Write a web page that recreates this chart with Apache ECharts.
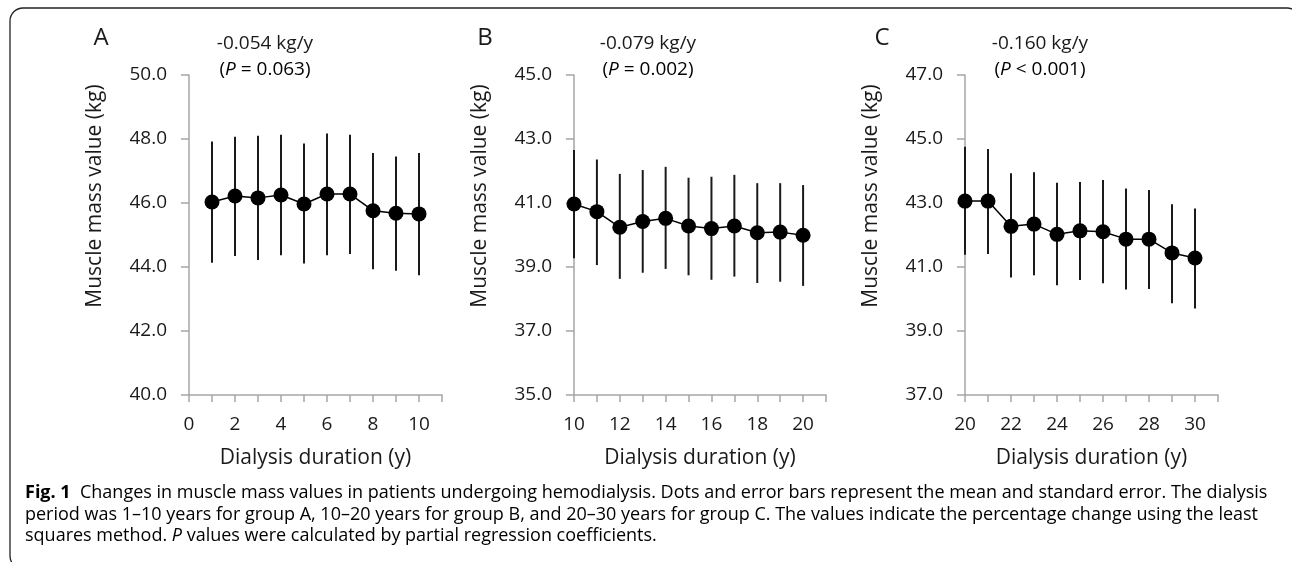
<!DOCTYPE html>
<html>
<head>
<meta charset="utf-8">
<script src="https://cdn.jsdelivr.net/npm/echarts@6/dist/echarts.min.js"></script>
<style>
  html, body { margin: 0; padding: 0; background: #fff; }
  #chart { width: 1292px; height: 562px; }
</style>
</head>
<body>
<div id="chart"></div>
<script>
// group A: dialysis 1-10 y
const yearsA = [1, 2, 3, 4, 5, 6, 7, 8, 9, 10]
const meanA = [46.03, 46.22, 46.16, 46.25, 45.97, 46.28, 46.28, 45.76, 45.68, 45.66]
const highA = [47.92, 48.07, 48.10, 48.13, 47.86, 48.17, 48.13, 47.56, 47.45, 47.56]
const lowA = [44.13, 44.34, 44.22, 44.37, 44.11, 44.37, 44.41, 43.93, 43.88, 43.74]

// group B: dialysis 10-20 y
const yearsB = [10, 11, 12, 13, 14, 15, 16, 17, 18, 19, 20]
const meanB = [40.97, 40.73, 40.24, 40.42, 40.52, 40.28, 40.20, 40.28, 40.07, 40.09, 39.99]
const highB = [42.66, 42.36, 41.91, 42.03, 42.13, 41.79, 41.82, 41.88, 41.62, 41.62, 41.56]
const lowB = [39.27, 39.06, 38.63, 38.82, 38.94, 38.74, 38.60, 38.70, 38.50, 38.54, 38.41]

// group C: dialysis 20-30 y
const yearsC = [20, 21, 22, 23, 24, 25, 26, 27, 28, 29, 30]
const meanC = [43.06, 43.06, 42.27, 42.34, 42.02, 42.13, 42.10, 41.87, 41.87, 41.44, 41.28]
const highC = [44.76, 44.69, 43.93, 43.96, 43.63, 43.66, 43.72, 43.45, 43.41, 42.96, 42.83]
const lowC = [41.38, 41.41, 40.67, 40.74, 40.43, 40.59, 40.49, 40.30, 40.31, 39.87, 39.70]

const panelLetters = ['A', 'B', 'C']
const slopes = ['-0.054 kg/y', '-0.079 kg/y', '-0.160 kg/y']
const pTexts = ['= 0.063)', '= 0.002)', '< 0.001)']
const xRanges = [[0, 11], [10, 21], [20, 31]]
const yRanges = [[40, 50], [35, 45], [37, 47]]

const FONT = "'Open Sans', sans-serif"
const INK = '#1a1a1a'
const AXIS = '#a6a6a6'

const chart = echarts.init(document.getElementById('chart'))

const panels = [
  { years: yearsA, mean: meanA, low: lowA, high: highA, left: 189, width: 253 },
  { years: yearsB, mean: meanB, low: lowB, high: highB, left: 574, width: 252 },
  { years: yearsC, mean: meanC, low: lowC, high: highC, left: 965, width: 253 }
]

const grid = []
const xAxis = []
const yAxis = []
const series = []
const graphic = []

panels.forEach((p, i) => {
  grid.push({ left: p.left, top: 75, width: p.width, height: 320 })
  xAxis.push({
    type: 'value',
    gridIndex: i,
    min: xRanges[i][0],
    max: xRanges[i][1],
    interval: 1,
    name: 'Dialysis duration (y)',
    nameLocation: 'middle',
    nameGap: 53,
    nameTextStyle: { fontFamily: FONT, fontSize: 21, color: INK },
    axisLine: { lineStyle: { color: AXIS, width: 1.5 } },
    axisTick: { inside: false, length: 7, lineStyle: { color: AXIS, width: 1.5 } },
    axisLabel: {
      margin: 20,
      fontFamily: FONT,
      fontSize: 19,
      color: INK,
      formatter: v => (v % 2 === 0 && v < xRanges[i][1]) ? String(v) : ''
    },
    splitLine: { show: false }
  })
  yAxis.push({
    type: 'value',
    gridIndex: i,
    min: yRanges[i][0],
    max: yRanges[i][1],
    interval: 2,
    axisLine: { show: true, lineStyle: { color: AXIS, width: 1.5 } },
    axisTick: { show: true, inside: false, length: 8, lineStyle: { color: AXIS, width: 1.5 } },
    axisLabel: {
      margin: 22,
      fontFamily: FONT,
      fontSize: 19,
      color: INK,
      formatter: v => v.toFixed(1)
    },
    splitLine: { show: false }
  })

  // error bars
  series.push({
    type: 'custom',
    xAxisIndex: i,
    yAxisIndex: i,
    z: 1,
    data: p.years.map((y, k) => [y, p.low[k], p.high[k]]),
    encode: { x: 0, y: [1, 2] },
    renderItem: function (params, api) {
      const a = api.coord([api.value(0), api.value(1)])
      const b = api.coord([api.value(0), api.value(2)])
      return {
        type: 'line',
        shape: { x1: a[0], y1: a[1], x2: b[0], y2: b[1] },
        style: { stroke: INK, lineWidth: 2 }
      }
    }
  })
  // mean line + dots
  series.push({
    type: 'line',
    xAxisIndex: i,
    yAxisIndex: i,
    z: 3,
    data: p.years.map((y, k) => [y, p.mean[k]]),
    symbol: 'circle',
    symbolSize: 15,
    itemStyle: { color: '#000' },
    lineStyle: { color: '#000', width: 1.5 }
  })

  const cx = [265, 648, 1040][i]
  graphic.push({
    type: 'text', x: [101, 485, 882][i], y: 38,
    style: { text: panelLetters[i], font: `24px ${FONT}`, fill: INK, align: 'center', verticalAlign: 'middle' }
  })
  graphic.push({
    type: 'text', x: cx, y: 44,
    style: { text: slopes[i], font: `19px ${FONT}`, fill: INK, align: 'center', verticalAlign: 'middle' }
  })
  graphic.push({
    type: 'text', x: cx, y: 70,
    style: {
      text: `{n|(}{i|P}{n| ${pTexts[i]}}`,
      align: 'center', verticalAlign: 'middle',
      rich: {
        n: { fontFamily: FONT, fontSize: 19, color: INK },
        i: { fontFamily: FONT, fontSize: 19, color: INK, fontStyle: 'italic' }
      }
    }
  })
  graphic.push({
    type: 'text', x: p.left - 94, y: 196, rotation: Math.PI / 2,
    style: { text: 'Muscle mass value (kg)', font: `21px ${FONT}`, fill: INK, align: 'center', verticalAlign: 'middle' }
  })
})

// frame
graphic.push({
  type: 'rect', z: -1,
  shape: { x: 10, y: 8, width: 1290, height: 561, r: 13 },
  style: { fill: 'none', stroke: '#222', lineWidth: 1.3 }
})

// caption
const capRich = {
  b: { fontFamily: FONT, fontSize: 18, fontWeight: 'bold', color: INK },
  n: { fontFamily: FONT, fontSize: 18, color: INK },
  i: { fontFamily: FONT, fontSize: 18, fontStyle: 'italic', color: INK }
}
const captionLines = [
  '{b|Fig. 1}{n|  Changes in muscle mass values in patients undergoing hemodialysis. Dots and error bars represent the mean and standard error. The dialysis}',
  '{n|period was 1–10 years for group A, 10–20 years for group B, and 20–30 years for group C. The values indicate the percentage change using the least}',
  '{n|squares method. }{i|P}{n| values were calculated by partial regression coefficients.}'
]
captionLines.forEach((t, k) => {
  graphic.push({
    type: 'text', x: 25, y: 493 + k * 21.5,
    style: { text: t, rich: capRich, align: 'left', verticalAlign: 'middle' }
  })
})

chart.setOption({
  animation: false,
  grid,
  xAxis,
  yAxis,
  series,
  graphic
})

window.addEventListener('resize', () => chart.resize())
</script>
</body>
</html>
